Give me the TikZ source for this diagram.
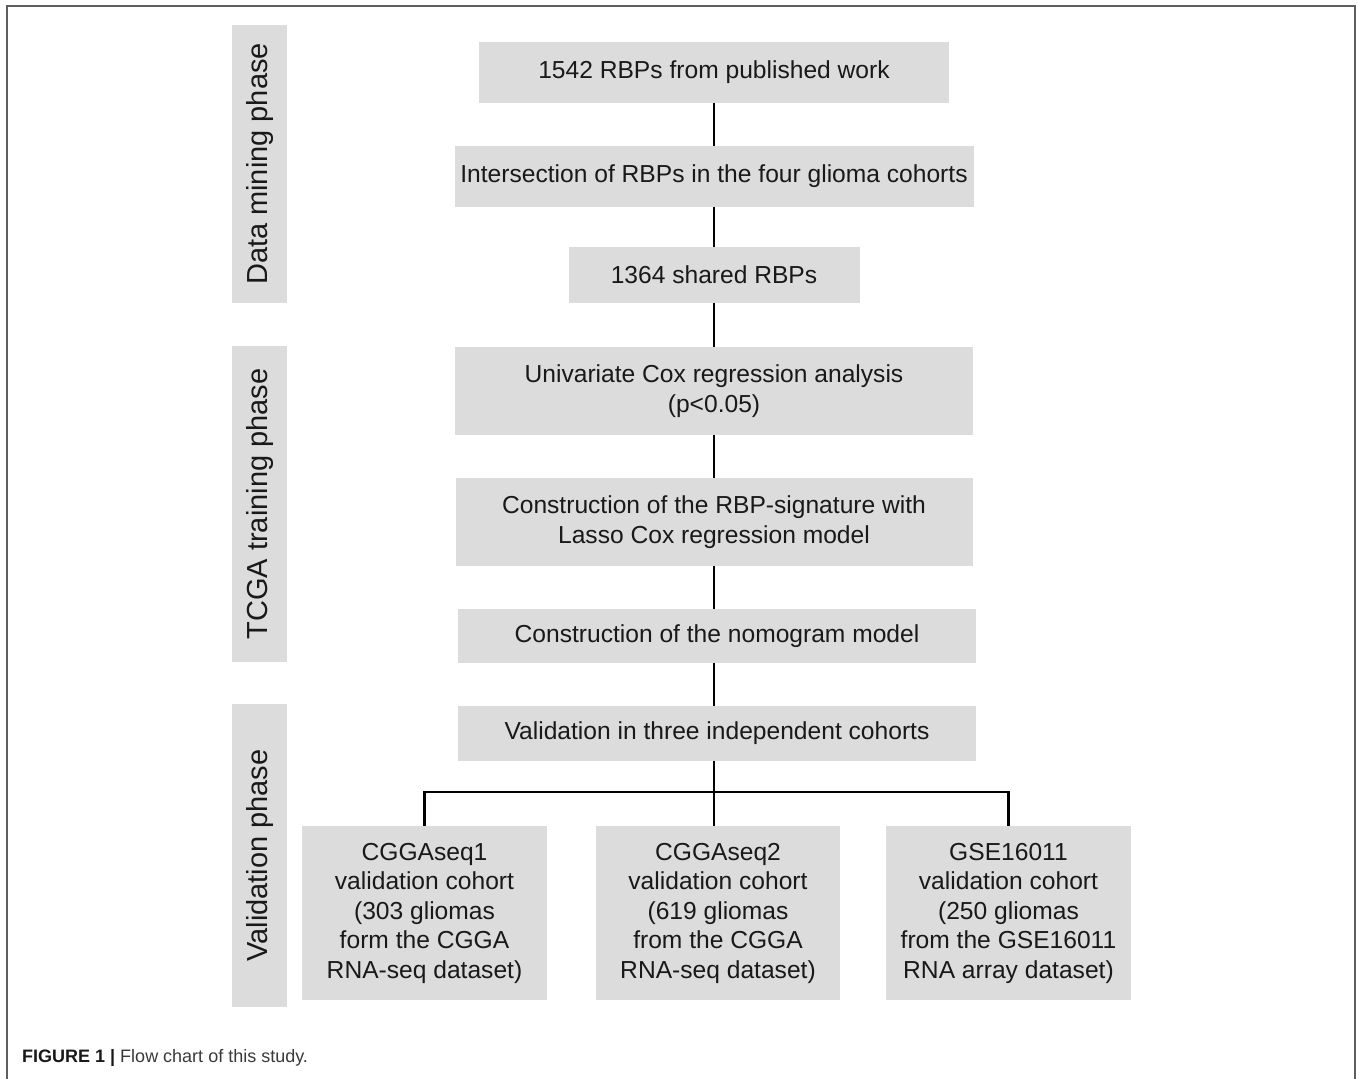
\documentclass[tikz,border=0pt]{standalone}
\usepackage{fontspec}
\setmainfont{Liberation Sans}
\usepackage{xcolor}
\usepackage{tikz}

\definecolor{boxgray}{RGB}{220,220,220}
\definecolor{inkgray}{RGB}{25,25,25}
\definecolor{framegray}{RGB}{95,95,95}

\tikzset{
  stepbox/.style={rectangle, fill=boxgray, text=inkgray, text centered, align=center, inner sep=0pt, font=\fontsize{24.6}{29.5}\selectfont},
  phasebox/.style={rectangle, fill=boxgray, text=inkgray, rotate=90, inner sep=0pt, minimum height=55pt, font=\fontsize{29}{34}\selectfont},
  link/.style={line width=2.4pt, black}
}

\begin{document}
\begin{tikzpicture}[x=1pt, y=-1pt]
\useasboundingbox (0,0) rectangle (1358,1079);

\draw[framegray, line width=2pt] (7,1079) -- (7,6) -- (1355,6) -- (1355,1079);

\node (mining) [phasebox, minimum width=278pt] at (259.5,164) {Data mining phase};
\node (training) [phasebox, minimum width=316pt] at (259.5,504) {TCGA training phase};
\node (validation) [phasebox, minimum width=303pt] at (259.5,855.5) {Validation phase};

\node (rbps) [stepbox, minimum width=470pt, minimum height=61pt] at (714,72.5) {1542 RBPs from published work};
\node (intersect) [stepbox, minimum width=519pt, minimum height=61pt] at (714,176.5) {Intersection of RBPs in the four glioma cohorts};
\node (shared) [stepbox, minimum width=291pt, minimum height=56pt] at (714,275) {1364 shared RBPs};
\node (unicox) [stepbox, minimum width=518pt, minimum height=88pt] at (714,391) {Univariate Cox regression analysis\\ (p<0.05)};
\node (signature) [stepbox, minimum width=517pt, minimum height=88pt] at (714,522) {Construction of the RBP-signature with\\ Lasso Cox regression model};
\node (nomogram) [stepbox, minimum width=518pt, minimum height=54pt] at (717,636) {Construction of the nomogram model};
\node (validate) [stepbox, minimum width=518pt, minimum height=55pt] at (717,733.5) {Validation in three independent cohorts};

\node (seqone) [stepbox, minimum width=245pt, minimum height=174pt] at (424.5,913) {CGGAseq1\\ validation cohort\\ (303 gliomas\\ form the CGGA\\ RNA-seq dataset)};
\node (seqtwo) [stepbox, minimum width=244pt, minimum height=174pt] at (718,913) {CGGAseq2\\ validation cohort\\ (619 gliomas\\ from the CGGA\\ RNA-seq dataset)};
\node (gse) [stepbox, minimum width=245pt, minimum height=174pt] at (1008.5,913) {GSE16011\\ validation cohort\\ (250 gliomas\\ from the GSE16011\\ RNA array dataset)};

\coordinate (split) at (714,792);

\draw[link] (rbps) -- (intersect);
\draw[link] (intersect) -- (shared);
\draw[link] (shared) -- (unicox);
\draw[link] (unicox) -- (signature);
\draw[link] (signature.south -| split) -- (nomogram.north -| split);
\draw[link] (nomogram.south -| split) -- (validate.north -| split);
\draw[link] (validate.south -| split) -- (split);
\draw[link] (seqone.north) |- (split) -| (gse.north);
\draw[link] (split) -- (seqtwo.north -| split);

\node (caption) [anchor=west, inner sep=0pt, text=framegray!60!black, font=\fontsize{18}{22}\selectfont] at (22,1058) {\textbf{\color{inkgray}FIGURE 1 |} Flow chart of this study.};

\end{tikzpicture}
\end{document}
